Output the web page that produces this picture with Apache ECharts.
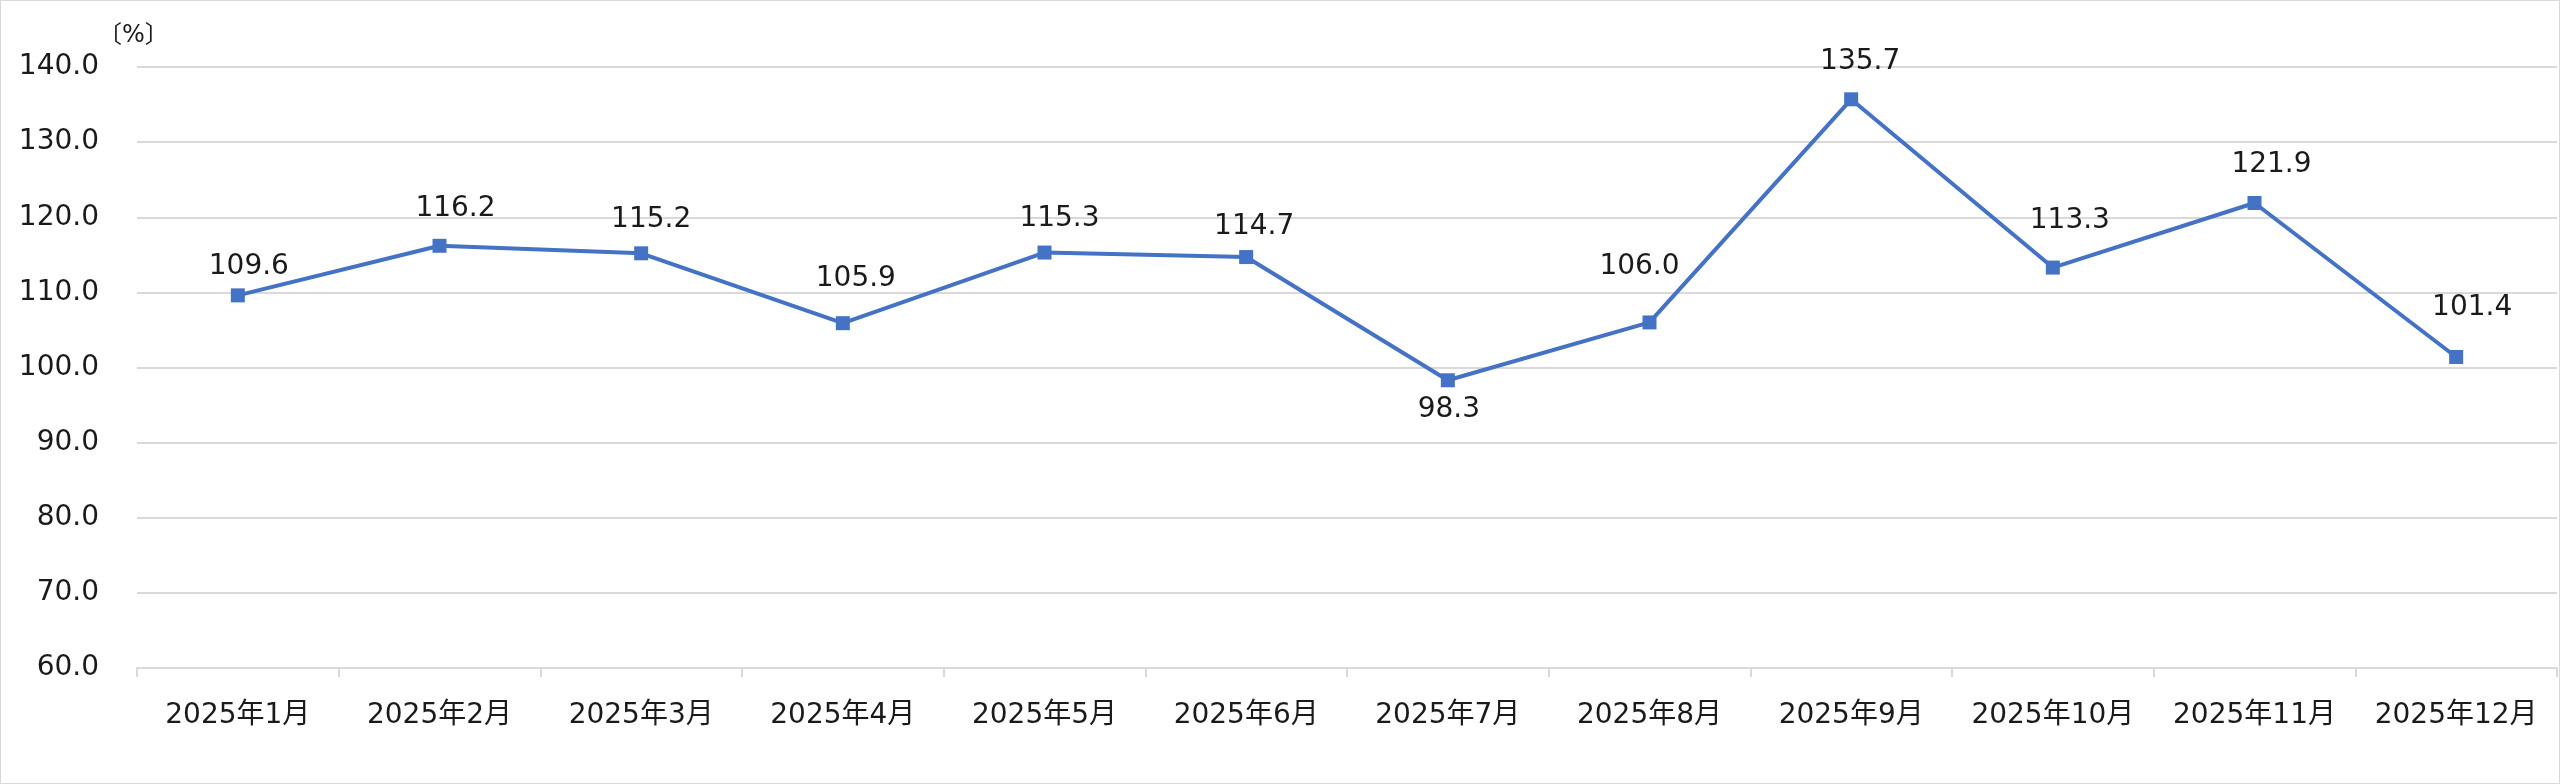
<!DOCTYPE html>
<html lang="ja">
<head>
    <meta charset="UTF-8">
    <title>月次推移</title>
    <script src="https://cdn.jsdelivr.net/npm/echarts@6/dist/echarts.min.js"></script>
</head>
<body style="margin:0;background:#fff">
<div id="main" style="width:2558px;height:782px;border:1px solid #d9d9d9;"></div>
<script>
    const months = ['2025年1月', '2025年2月', '2025年3月', '2025年4月', '2025年5月', '2025年6月',
        '2025年7月', '2025年8月', '2025年9月', '2025年10月', '2025年11月', '2025年12月'];
    const values = [109.6, 116.2, 115.2, 105.9, 115.3, 114.7, 98.3, 106.0, 135.7, 113.3, 121.9, 101.4];
    const yMin = 60, yMax = 140, yStep = 10;

    const font = '"DejaVu Sans", "Noto Sans CJK JP", sans-serif';
    const textColor = '#1a1a1a';

    // where each value label sits relative to its marker (px), as placed in the original
    const labelShift = [[11, -29], [16, -37], [10, -34], [13, -44], [15, -34], [8, -30],
        [1, 29], [-10, -56], [9, -38], [17, -47], [17, -38], [16, -49]];

    const points = values.map(function (v, i) {
        return {value: v, label: {offset: labelShift[i]}};
    });

    const myChart = echarts.init(document.getElementById('main'));
    const option = {
        animation: false,
        title: {
            text: '〔%〕',
            left: 92,
            top: 18,
            textStyle: {fontFamily: font, fontSize: 24, fontWeight: 'normal', color: textColor}
        },
        grid: {left: 136, right: 2, top: 66, bottom: 115},
        xAxis: {
            type: 'category',
            data: months,
            axisLine: {lineStyle: {color: '#d9d9d9', width: 2}},
            axisTick: {show: true, length: 9, lineStyle: {color: '#d9d9d9', width: 2}},
            axisLabel: {interval: 0, fontFamily: font, fontSize: 28, color: textColor, margin: 34}
        },
        yAxis: {
            type: 'value',
            min: yMin,
            max: yMax,
            interval: yStep,
            axisLine: {show: false},
            axisTick: {show: false},
            splitLine: {lineStyle: {color: '#d9d9d9', width: 2}},
            axisLabel: {
                fontFamily: font, fontSize: 28, color: textColor, margin: 38,
                formatter: function (v) { return v.toFixed(1); }
            }
        },
        series: [{
            type: 'line',
            data: points,
            symbol: 'rect',
            symbolSize: 14,
            itemStyle: {color: '#4472c4'},
            lineStyle: {color: '#4472c4', width: 4},
            label: {
                show: true,
                position: 'inside',
                fontFamily: font,
                fontSize: 28,
                color: textColor,
                formatter: function (p) { return p.value.toFixed(1); }
            }
        }]
    };
    myChart.setOption(option);
</script>
</body>
</html>
